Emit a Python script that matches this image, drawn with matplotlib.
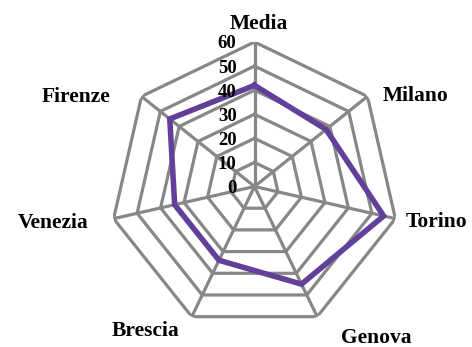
import numpy as np
import matplotlib
matplotlib.use("Agg")
import matplotlib.pyplot as plt

# Radar chart: one series across seven cities
categories = ["Media", "Milano", "Torino", "Genova", "Brescia", "Venezia", "Firenze"]
values = [42, 38, 55, 45, 34, 34, 45]
ring_levels = [10, 20, 30, 40, 50, 60]
tick_labels = ["0", "10", "20", "30", "40", "50", "60"]
tick_values = [0, 10, 20, 30, 40, 50, 60]

GRID = "#878787"
LINE = "#62409a"
FONT = "Liberation Serif"

W, H, DPI = 472, 347, 100
fig = plt.figure(figsize=(W / DPI, H / DPI), dpi=DPI)
fig.patch.set_facecolor("white")

cx, cy, rad = 254.5, 186.5, 144.5
ax = fig.add_axes([(cx - rad) / W, (H - cy - rad) / H, 2 * rad / W, 2 * rad / H],
                  projection="polar")
ax.set_theta_zero_location("N")
ax.set_theta_direction(-1)
ax.set_ylim(0, 60)
ax.set_axis_off()

n = len(categories)
theta = np.arange(n) * 2 * np.pi / n
closed = np.append(theta, theta[0])

# heptagonal rings
for lv in ring_levels:
    ax.plot(closed, [lv] * (n + 1), color=GRID, lw=2.3, zorder=1,
            solid_joinstyle="miter")
# spokes
for t in theta:
    ax.plot([t, t], [0, 60], color=GRID, lw=2.3, zorder=1)

# data series
vals = np.append(values, values[0])
ax.plot(closed, vals, color=LINE, lw=4.0, zorder=3, solid_joinstyle="miter")

# radial tick labels along the top spoke
for tv, tl in zip(tick_values, tick_labels):
    ax.annotate(tl, xy=(0, tv), xytext=(-18, -6.5), textcoords="offset pixels",
                ha="right", va="baseline", fontsize=13.5, fontweight="bold",
                family=FONT, color="black", zorder=4)

# category labels placed outside the outer ring
offsets = [(4.5, 20.5), (48.4, 3.3), (41, -1), (59, -19),
           (-46.5, -11.8), (-60, -2), (-65.7, 2.3)]
for t, lab, off in zip(theta, categories, offsets):
    ax.annotate(lab, xy=(t, 60), xytext=off, textcoords="offset pixels",
                ha="center", va="center_baseline", fontsize=15.5, fontweight="bold",
                family=FONT, color="black", annotation_clip=False)

fig.savefig("out.png", dpi=DPI, facecolor="white")
